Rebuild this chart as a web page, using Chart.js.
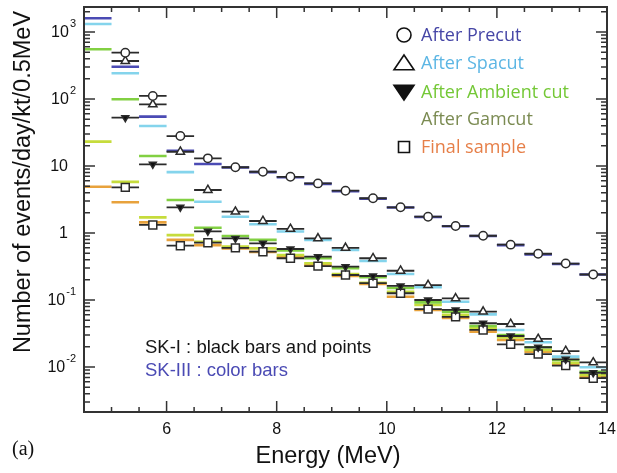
<!DOCTYPE html>
<html>
<head>
<meta charset="utf-8">
<script src="https://cdn.jsdelivr.net/npm/chart.js@4.4.0/dist/chart.umd.min.js"></script>
<style>
  html, body { margin: 0; padding: 0; background: #fff; }
  canvas { display: block; }
</style>
</head>
<body>
<canvas id="chart" width="617" height="473"></canvas>
<script>
// energy bins, 0.5 MeV wide
const binWidth = 0.5;
const energy = [4.75, 5.25, 5.75, 6.25, 6.75, 7.25, 7.75, 8.25, 8.75, 9.25,
                9.75, 10.25, 10.75, 11.25, 11.75, 12.25, 12.75, 13.25, 13.75];

// SK-III (colour bars)
const precutSK3  = [1600, 303, 54.5, 16.9, 10.7, 9.5, 8.1, 6.8, 5.4, 4.2, 3.25, 2.4, 1.73, 1.26, 0.9, 0.66, 0.48, 0.345, 0.24];
const spacutSK3  = [1316, 242, 39.5, 8.1, 2.93, 1.75, 1.35, 1.05, 0.79, 0.557, 0.382, 0.244, 0.155, 0.094, 0.061, 0.0357, 0.0234, 0.0143, 0.0099];
const ambientSK3 = [552, 99, 14.1, 3.11, 1.2, 0.9, 0.79, 0.55, 0.42, 0.297, 0.218, 0.151, 0.092, 0.067, 0.041, 0.030, 0.0197, 0.0127, 0.0085];
const gamcutSK3  = [23.1, 5.8, 1.71, 0.93, 0.74, 0.625, 0.59, 0.47, 0.353, 0.244, 0.181, 0.133, 0.084, 0.060, 0.038, 0.0277, 0.0179, 0.0116, 0.0076];
const finalSK3   = [4.9, 2.87, 1.44, 0.79, 0.66, 0.59, 0.52, 0.434, 0.333, 0.228, 0.173, 0.112, 0.071, 0.054, 0.0337, 0.0253, 0.0169, 0.0111, 0.0070];

// SK-I (black bars and points), no entry in the first bin
const precutSK1  = [null, 491, 111, 28, 13.0, 9.57, 8.2, 6.9, 5.5, 4.28, 3.3, 2.42, 1.75, 1.27, 0.91, 0.67, 0.49, 0.35, 0.24];
const spacutSK1  = [null, 369, 83, 16.3, 4.38, 2.08, 1.51, 1.15, 0.83, 0.60, 0.42, 0.273, 0.167, 0.106, 0.067, 0.0438, 0.0262, 0.0173, 0.0117];
const ambientSK1 = [null, 52.6, 10.6, 2.42, 1.06, 0.83, 0.70, 0.577, 0.443, 0.314, 0.228, 0.162, 0.100, 0.071, 0.045, 0.029, 0.0197, 0.0130, 0.0082];
const finalSK1   = [null, 4.8, 1.32, 0.646, 0.716, 0.60, 0.526, 0.42, 0.32, 0.236, 0.178, 0.126, 0.073, 0.056, 0.0357, 0.0218, 0.0156, 0.0105, 0.0068];

const xTicks = [6, 8, 10, 12, 14];
const yTicks = [0.01, 0.1, 1, 10, 100, 1000];
const yTickLabels = [["10", "-2"], ["10", "-1"], ["1", ""], ["10", ""], ["10", "2"], ["10", "3"]];

const legendLabels = ["After Precut", "After Spacut", "After Ambient cut", "After Gamcut", "Final sample"];
const legendColors = ["#4646a6", "#5cb6e4", "#74c836", "#7b8b52", "#e67f48"];
const barColors = ["#4b4bb4", "#84d4ec", "#82d042", "#c6dc3c", "#e8a23c"];

const axisFont = "Liberation Sans, Arial, sans-serif";

// one horizontal segment per bin, gaps in between
function segments(values) {
  const pts = [];
  energy.forEach((e, i) => {
    const v = values[i];
    if (v == null) return;
    pts.push({ x: e - binWidth / 2, y: v });
    pts.push({ x: e, y: v, m: true });
    pts.push({ x: e + binWidth / 2, y: v });
    pts.push({ x: e + binWidth / 2, y: null });
  });
  return pts;
}

function colorSet(values, color) {
  return {
    data: segments(values),
    borderColor: color,
    borderWidth: 2.6,
    pointRadius: 0,
    spanGaps: false,
    order: 2
  };
}

function blackSet(values, style, radius, rotation, fill) {
  return {
    data: segments(values),
    borderColor: "#2b2b2b",
    borderWidth: 1.8,
    pointRadius: ctx => (ctx.raw && ctx.raw.m ? radius : 0),
    pointStyle: style,
    rotation: rotation,
    pointBackgroundColor: fill,
    pointBorderColor: "#2b2b2b",
    pointBorderWidth: 1.5,
    spanGaps: false,
    order: 1
  };
}

function drawMarker(ctx, kind, x, y, r, filled) {
  ctx.beginPath();
  if (kind === "circle") {
    ctx.arc(x, y, r, 0, Math.PI * 2);
  } else if (kind === "triangle") {
    ctx.moveTo(x, y - r);
    ctx.lineTo(x + r * 1.25, y + r * 0.85);
    ctx.lineTo(x - r * 1.25, y + r * 0.85);
    ctx.closePath();
  } else if (kind === "down") {
    ctx.moveTo(x, y + r);
    ctx.lineTo(x + r * 1.25, y - r * 0.85);
    ctx.lineTo(x - r * 1.25, y - r * 0.85);
    ctx.closePath();
  } else if (kind === "square") {
    ctx.rect(x - r, y - r, 2 * r, 2 * r);
  } else {
    return;
  }
  if (filled) { ctx.fillStyle = "#111"; ctx.fill(); }
  ctx.strokeStyle = "#111";
  ctx.lineWidth = 1.6;
  ctx.stroke();
}

const framePlugin = {
  id: "frame",
  afterDraw(chart) {
    const ctx = chart.ctx;
    const a = chart.chartArea;
    const xs = chart.scales.x, ys = chart.scales.y;
    ctx.save();

    // box
    ctx.strokeStyle = "#333";
    ctx.lineWidth = 2;
    ctx.strokeRect(a.left, a.top, a.right - a.left, a.bottom - a.top);

    // x ticks every half MeV, major on the labelled ones
    ctx.lineWidth = 1.5;
    ctx.beginPath();
    for (let e = xs.min; e <= xs.max + 1e-9; e += binWidth) {
      const px = xs.getPixelForValue(e);
      const len = xTicks.includes(e) ? 11 : 5;
      ctx.moveTo(px, a.bottom); ctx.lineTo(px, a.bottom - len);
      ctx.moveTo(px, a.top); ctx.lineTo(px, a.top + len);
    }
    // y log ticks
    for (let d = -3; d <= 3; d++) {
      for (let k = 1; k <= 9; k++) {
        const v = k * Math.pow(10, d);
        if (v < ys.min || v > ys.max) continue;
        const py = ys.getPixelForValue(v);
        const len = k === 1 ? 11 : 6;
        ctx.moveTo(a.left, py); ctx.lineTo(a.left + len, py);
        ctx.moveTo(a.right, py); ctx.lineTo(a.right - len, py);
      }
    }
    ctx.stroke();

    ctx.fillStyle = "#111";
    ctx.textBaseline = "middle";

    // x tick labels
    ctx.font = "16px " + axisFont;
    ctx.textAlign = "center";
    xTicks.forEach(v => {
      ctx.fillText(String(v), xs.getPixelForValue(v), 430);
    });

    // y tick labels with exponents
    yTicks.forEach((v, i) => {
      const py = ys.getPixelForValue(v);
      const [base, exp] = yTickLabels[i];
      ctx.textAlign = "right";
      if (exp) {
        ctx.font = "11px " + axisFont;
        ctx.fillText(exp, 76, py - 8);
        const ew = ctx.measureText(exp).width;
        ctx.font = "16px " + axisFont;
        ctx.fillText(base, 76 - ew - 1, py + 1);
      } else {
        ctx.font = "16px " + axisFont;
        ctx.fillText(base, 68, py + 1);
      }
    });

    // axis titles
    ctx.font = "23.5px " + axisFont;
    ctx.textAlign = "center";
    ctx.fillText("Energy (MeV)", 328, 457);
    ctx.save();
    ctx.translate(24, 182);
    ctx.rotate(-Math.PI / 2);
    ctx.fillText("Number of events/day/kt/0.5MeV", 0, 0);
    ctx.restore();

    // panel tag
    ctx.font = "20px Liberation Serif, Times New Roman, serif";
    ctx.textAlign = "left";
    ctx.fillText("(a)", 12, 450);

    // notes
    ctx.font = "18.5px " + axisFont;
    ctx.fillStyle = "#161616";
    ctx.fillText("SK-I : black bars and points", 145, 348);
    ctx.fillStyle = "#4a4ab4";
    ctx.fillText("SK-III : color bars", 145, 371);

    // legend
    const rows = [35, 63, 92, 119, 147];
    const marks = [["circle", 7, false], ["triangle", 8, false], ["down", 8, true], [null, 0, false], ["square", 5.5, false]];
    ctx.font = "18px Open Sans, Lato, sans-serif";
    legendLabels.forEach((t, i) => {
      drawMarker(ctx, marks[i][0], 404, rows[i], marks[i][1], marks[i][2]);
      ctx.fillStyle = legendColors[i];
      ctx.textAlign = "left";
      ctx.fillText(t, 421, rows[i] + 1);
    });

    ctx.restore();
  }
};

new Chart(document.getElementById("chart"), {
  type: "line",
  data: {
    datasets: [
      colorSet(precutSK3, barColors[0]),
      colorSet(spacutSK3, barColors[1]),
      colorSet(ambientSK3, barColors[2]),
      colorSet(gamcutSK3, barColors[3]),
      colorSet(finalSK3, barColors[4]),
      blackSet(precutSK1, "circle", 4.2, 0, "#fff"),
      blackSet(spacutSK1, "triangle", 4.8, 0, "#fff"),
      blackSet(ambientSK1, "triangle", 4, 180, "#111"),
      blackSet(finalSK1, "rect", 5.6, 0, "#fff")
    ]
  },
  options: {
    responsive: false,
    animation: false,
    devicePixelRatio: 1,
    layout: { padding: { left: 0, right: 10, top: 7, bottom: 0 } },
    plugins: { legend: { display: false }, tooltip: { enabled: false } },
    scales: {
      x: {
        type: "linear",
        min: 4.5,
        max: 14,
        bounds: "data",
        grid: { display: false, drawTicks: false },
        border: { display: false },
        ticks: { display: false },
        afterFit: s => { s.height = 61; }
      },
      y: {
        type: "logarithmic",
        min: 0.00213,
        max: 2360,
        bounds: "data",
        grid: { display: false, drawTicks: false },
        border: { display: false },
        ticks: { display: false },
        afterFit: s => { s.width = 84; }
      }
    }
  },
  plugins: [framePlugin]
});
</script>
</body>
</html>
